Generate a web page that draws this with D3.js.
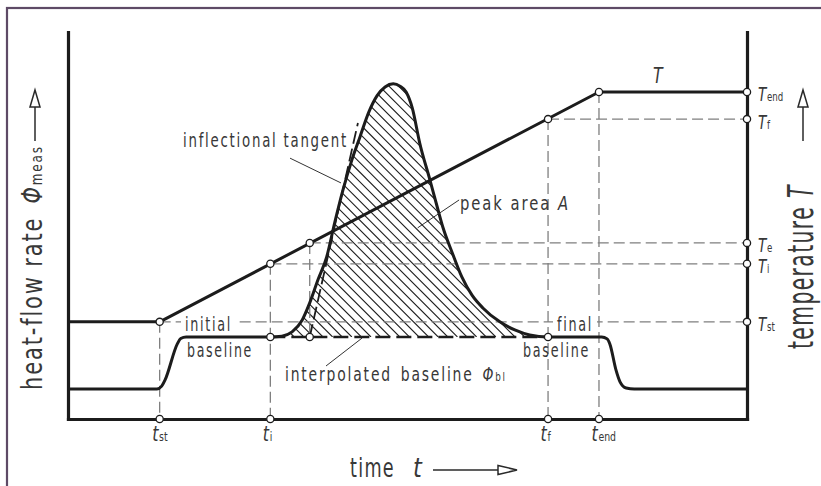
<!DOCTYPE html>
<html>
<head>
<meta charset="utf-8">
<script src="https://cdn.jsdelivr.net/npm/d3@7"></script>
<style>
  body { margin: 0; background: #fff; }
  text { font-family: "DejaVu Sans", sans-serif; fill: #383838; }
</style>
</head>
<body>
<div class="chart"></div>
<script>
// marked instants on the time axis (arbitrary units 0..100)
let tickNames = ['st', 'i', 'f', 'end'];
let tickTimes = [13.5, 29.8, 70.7, 78.2];
let onsetTime = 35.6; // extrapolated onset t_e

// temperature levels on the right axis
let tempNames = ['end', 'f', 'e', 'i', 'st'];
let tempValues = [84.5, 77.5, 45.5, 40.1, 25.1];

// temperature programme T(t)
let tempTime = [0, 13.5, 78.2, 100];
let tempSeries = [25.1, 25.1, 84.5, 84.5];

// measured heat-flow rate
let flowTime = [0, 13.1, 13.8, 14.3, 16.1, 16.6, 17.4, 29.75, 31.5, 33.0, 34.5, 35.6, 36.8, 38.1, 39.3,
  40.5, 41.8, 43.0, 44.3, 45.5, 46.7, 47.9, 48.9, 49.8, 50.7, 51.8, 53.3, 54.3, 55.2, 56.6, 58.0, 59.5,
  61.1, 63.6, 65.8, 68.0, 70.7, 78.6, 79.4, 79.8, 80.7, 81.3, 82.2, 83.4, 100];
let flowValue = [7.75, 7.75, 8.5, 10.1, 19.4, 20.8, 21.2, 21.2, 21.4, 22.5, 25.6, 30.0, 35.9, 41.9, 50.9,
  59.2, 66.9, 72.9, 79.3, 83.5, 85.8, 86.6, 86.0, 84.5, 80.4, 71.3, 61.8, 55.3, 49.6, 42.9, 36.7, 32.0,
  28.7, 25.1, 23.0, 21.7, 21.2, 21.2, 20.7, 19.4, 12.7, 9.6, 8.0, 7.75, 7.75];

let baselineValue = 21.2;

// inflectional tangent
let tangentTime = [35.6, 42.7];
let tangentValue = [21.2, 76.5];

let width = 821;
let height = 486;

let svg = d3.select('.chart')
  .append('svg')
    .attr('width', width)
    .attr('height', height);

let x = d3.scaleLinear().domain([0, 100]).range([68, 747]);
let y = d3.scaleLinear().domain([0, 100]).range([419, 32]);

let ink = '#1c1c1c';
let grey = '#7f7f7f';

// purple frame, only top and left inside the picture
svg.append('rect')
  .attr('x', 7).attr('y', 8)
  .attr('width', 840).attr('height', 500)
  .style('fill', 'none')
  .style('stroke', '#5e4a66')
  .style('stroke-width', 2.2);

function label(parent, parts, o) {
  let g = parent.append('g')
    .attr('transform', `translate(${o.x},${o.y})` + (o.rotate ? ` rotate(${o.rotate})` : ''));
  let inner = g.append('g');
  let text = inner.append('text')
    .attr('font-size', o.size)
    .attr('letter-spacing', o.spacing || 0)
    .attr('text-anchor', o.anchor || 'start');
  parts.forEach(p => {
    text.append('tspan')
      .text(p.t)
      .attr('font-size', p.s || null)
      .attr('font-style', p.i ? 'italic' : null)
      .attr('dx', p.dx || null);
  });
  let bb = text.node().getBBox();
  let sx = o.width ? o.width / bb.width : (o.sx || 0.75);
  inner.attr('transform', `scale(${sx},1)`);
  if (o.knockout) {
    inner.insert('rect', 'text')
      .attr('x', bb.x - 4 / sx).attr('y', bb.y + 2)
      .attr('width', bb.width + 8 / sx).attr('height', bb.height - 4)
      .style('fill', '#fff');
  }
  return g;
}

// hatched peak area
let peakIdx = flowTime.map((t, i) => i).filter(i => flowTime[i] >= tickTimes[1] && flowTime[i] <= tickTimes[2]);
let area = d3.area()
  .x(i => x(flowTime[i]))
  .y0(y(baselineValue))
  .y1(i => y(flowValue[i]))
  .curve(d3.curveMonotoneX);

svg.append('clipPath').attr('id', 'peak')
  .append('path').attr('d', area(peakIdx));

let hatch = svg.append('g').attr('clip-path', 'url(#peak)');
let hx0 = x(tickTimes[1]) - 300;
let hx1 = x(tickTimes[2]);
let hTop = y(90);
let hBot = y(baselineValue);
d3.range(hx0, hx1, 9.6).forEach(c => {
  hatch.append('line')
    .attr('x1', c).attr('y1', hTop)
    .attr('x2', c + (hBot - hTop)).attr('y2', hBot)
    .style('stroke', ink)
    .style('stroke-width', 1.1);
});

// dashed reference lines
let refs = svg.append('g')
  .style('stroke', grey)
  .style('stroke-width', 1.3)
  .style('stroke-dasharray', '11,5')
  .style('fill', 'none');

let tempAt = {st: 25.1, i: 40.1, e: 45.5, f: 77.5, end: 84.5};
let timeAt = {st: tickTimes[0], i: tickTimes[1], e: onsetTime, f: tickTimes[2], end: tickTimes[3]};

['st', 'i', 'e', 'f'].forEach(k => {
  refs.append('line')
    .attr('x1', x(timeAt[k])).attr('y1', y(tempAt[k]))
    .attr('x2', x(100)).attr('y2', y(tempAt[k]));
});
['st', 'i', 'f', 'end'].forEach(k => {
  refs.append('line')
    .attr('x1', x(timeAt[k])).attr('y1', y(tempAt[k]))
    .attr('x2', x(timeAt[k])).attr('y2', y(0));
});
refs.append('line')
  .attr('x1', x(onsetTime)).attr('y1', y(tempAt.e))
  .attr('x2', x(onsetTime)).attr('y2', y(baselineValue));

// text on the dashed T_st line
label(svg, [{t: 'initial'}], {x: 185, y: 331, size: 19, width: 47, spacing: 2.5, knockout: true});
label(svg, [{t: 'final'}], {x: 557, y: 331, size: 19, width: 36, spacing: 2.5, knockout: true});
label(svg, [{t: 'baseline'}], {x: 187, y: 357, size: 19, width: 66, spacing: 2.5});
label(svg, [{t: 'baseline'}], {x: 523, y: 357, size: 19, width: 67, spacing: 2.5});

// interpolated baseline
svg.append('line')
  .attr('x1', x(tickTimes[1])).attr('y1', y(baselineValue))
  .attr('x2', x(tickTimes[2])).attr('y2', y(baselineValue))
  .style('stroke', ink)
  .style('stroke-width', 2.6)
  .style('stroke-dasharray', '15,6');

// inflectional tangent
svg.append('line')
  .attr('x1', x(tangentTime[0])).attr('y1', y(tangentValue[0]))
  .attr('x2', x(tangentTime[1])).attr('y2', y(tangentValue[1]))
  .style('stroke', ink)
  .style('stroke-width', 1.8)
  .style('stroke-dasharray', '13,5');

// curves: T is piecewise straight, the heat flow is smooth
svg.append('path')
  .attr('d', d3.line()(tempTime.map((t, i) => [x(t), y(tempSeries[i])])))
  .style('fill', 'none')
  .style('stroke', ink)
  .style('stroke-width', 3)
  .style('stroke-linejoin', 'round');

svg.append('path')
  .attr('d', d3.line().curve(d3.curveMonotoneX)(flowTime.map((t, i) => [x(t), y(flowValue[i])])))
  .style('fill', 'none')
  .style('stroke', ink)
  .style('stroke-width', 3)
  .style('stroke-linejoin', 'round');

// axes
function styleAxis(g) {
  g.select('.domain')
    .style('stroke', ink)
    .style('stroke-width', 3.2)
    .style('stroke-linecap', 'square');
  g.selectAll('.tick line').remove();
}

let xAxis = d3.axisBottom(x).tickValues(tickTimes).tickSize(0).tickSizeOuter(0).tickFormat('');
let gx = svg.append('g')
  .attr('transform', `translate(0, ${y(0)})`)
  .call(xAxis)
  .call(styleAxis);

svg.append('g')
  .attr('transform', `translate(${x(0)}, 0)`)
  .call(d3.axisLeft(y).tickValues([]).tickSizeOuter(0))
  .call(styleAxis);

let rAxis = d3.axisRight(y).tickValues(tempValues).tickSize(0).tickSizeOuter(0).tickFormat('');
let gr = svg.append('g')
  .attr('transform', `translate(${x(100)}, 0)`)
  .call(rAxis)
  .call(styleAxis);

// markers
function marker(cx, cy) {
  svg.append('circle')
    .attr('cx', cx).attr('cy', cy).attr('r', 3.6)
    .style('fill', '#fff')
    .style('stroke', ink)
    .style('stroke-width', 1.3);
}
['st', 'i', 'e', 'f', 'end'].forEach(k => marker(x(timeAt[k]), y(tempAt[k])));
['i', 'e', 'f'].forEach(k => marker(x(timeAt[k]), y(baselineValue)));
tickTimes.forEach(t => marker(x(t), y(0)));
tempValues.forEach(v => marker(x(100), y(v)));

// tick labels
gx.selectAll('.tick text').remove();
gx.selectAll('.tick').each(function(d) {
  let name = tickNames[tickTimes.indexOf(d)];
  label(d3.select(this), [{t: 't', i: true}, {t: name, s: 13, dx: 1}],
    {x: -8, y: 22, size: 22, sx: 0.72});
});

gr.selectAll('.tick text').remove();
gr.selectAll('.tick').each(function(d) {
  let name = tempNames[tempValues.indexOf(d)];
  label(d3.select(this), [{t: 'T', i: true}, {t: name, s: 12, dx: 1}],
    {x: 11, y: 9, size: 19, sx: 0.72});
});

// annotations
label(svg, [{t: 'T', i: true}], {x: 653, y: 83, size: 21, sx: 0.75});
label(svg, [{t: 'inflectional tangent'}], {x: 183, y: 147, size: 19, width: 165, spacing: 2.5});
label(svg, [{t: 'peak area '}, {t: 'A', i: true}], {x: 460, y: 210, size: 19, width: 110, spacing: 2.5});
label(svg, [{t: 'interpolated'}, {t: 'baseline', dx: 12}, {t: 'Φ', i: true, dx: 12}, {t: 'bl', s: 12}],
  {x: 285, y: 381, size: 19, width: 222, spacing: 2.5});

let leaders = [
  [[32.7, 67.4], [40.2, 61.0]],
  [[57.6, 56.6], [51.5, 49.4]],
  [[38.0, 13.7], [43.3, 20.9]]
];
leaders.forEach(l => {
  svg.append('line')
    .attr('x1', x(l[0][0])).attr('y1', y(l[0][1]))
    .attr('x2', x(l[1][0])).attr('y2', y(l[1][1]))
    .style('stroke', '#333')
    .style('stroke-width', 1);
});

// axis titles
label(svg, [{t: 'time'}], {x: 350, y: 477, size: 27, width: 45, spacing: 2});
label(svg, [{t: 't', i: true}], {x: 413, y: 477, size: 27, width: 10});
label(svg, [{t: 'heat-flow rate '}, {t: 'Φ', i: true, dx: 6}, {t: 'meas', s: 16}],
  {x: 42, y: 390, size: 28, width: 245, spacing: 2.5, rotate: -90});
label(svg, [{t: 'temperature '}, {t: 'T', i: true}],
  {x: 813, y: 349, size: 36, width: 165, spacing: 2.5, rotate: -90});

// hollow arrows
function arrow(x1, y1, x2, y2, len, half) {
  let a = Math.atan2(y2 - y1, x2 - x1);
  let bx = x2 - len * Math.cos(a), by = y2 - len * Math.sin(a);
  svg.append('line')
    .attr('x1', x1).attr('y1', y1).attr('x2', bx).attr('y2', by)
    .style('stroke', '#2a2a2a').style('stroke-width', 1.5);
  let px = -Math.sin(a) * half, py = Math.cos(a) * half;
  svg.append('path')
    .attr('d', `M${x2},${y2}L${bx + px},${by + py}L${bx - px},${by - py}Z`)
    .style('fill', '#fff').style('stroke', '#2a2a2a').style('stroke-width', 1.5);
}
arrow(35, 141, 35, 90, 17, 5);
arrow(803, 141, 803, 90, 17, 5);
arrow(433, 470, 517, 470, 19, 4.5);
</script>
</body>
</html>
